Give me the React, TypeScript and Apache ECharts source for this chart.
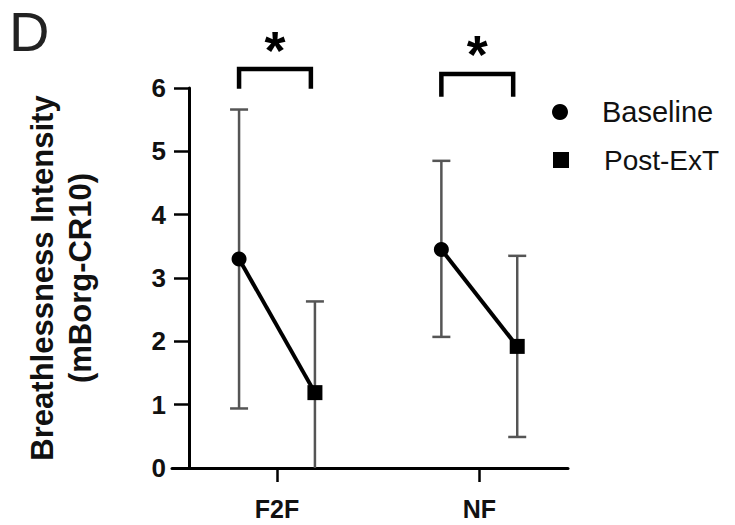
import React, { useEffect, useRef } from 'react';
import * as echarts from 'echarts';

// ---- data ----
const categories = ['F2F', 'NF'];
const baselineMean = [3.3, 3.45];
const baselineLow = [0.94, 2.07];
const baselineHigh = [5.66, 4.85];
const postMean = [1.19, 1.92];
const postLow = [-0.25, 0.49];
const postHigh = [2.63, 3.35];
const significance = ['*', '*'];
const yMin = 0;
const yMax = 6;
const yInterval = 1;

// ---- layout (not data) ----
const GROUP_OFFSET = 0.1875;
const X_MIN = 0.481;
const X_MAX = 2.4385;
const BRACKET_TOP = [6.3, 6.22];
const BRACKET_BOTTOM = [5.99, 5.86];
const STAR_Y = [6.6, 6.54];
const FONT = '"Liberation Sans", Arial, Helvetica, sans-serif';

export default function App() {
  const ref = useRef<HTMLDivElement>(null);

  useEffect(() => {
    const chart = echarts.init(ref.current!, null, { renderer: 'svg' });
    const catX = categories.map((_, i) => i + 1);
    const bx = catX.map((x) => x - GROUP_OFFSET);
    const px = catX.map((x) => x + GROUP_OFFSET);

    const errData = [
      ...categories.map((_, i) => [bx[i], baselineLow[i], baselineHigh[i]]),
      ...categories.map((_, i) => [px[i], postLow[i], postHigh[i]]),
    ];
    const bracketData = categories.map((_, i) => [
      bx[i],
      px[i] - 0.02,
      BRACKET_TOP[i],
      BRACKET_BOTTOM[i],
      STAR_Y[i],
    ]);

    const errStyle = { stroke: '#555', lineWidth: 2.5 };
    const CAP = 9;

    const option: any = {
      animation: false,
      grid: { left: 172, top: 88, right: 167, bottom: 57, containLabel: false },
      graphic: [
        {
          type: 'text',
          left: 9,
          top: 3,
          style: { text: 'D', fontSize: 56, fontFamily: FONT, fill: '#222', lineHeight: 50 },
        },
      ],
      legend: [
        {
          data: [{ name: 'Baseline', icon: 'circle' }],
          left: 547,
          top: 92,
          itemWidth: 74,
          itemHeight: 16,
          selectedMode: false,
          itemStyle: { color: '#000', opacity: 1 },
          textStyle: { fontSize: 29, fontFamily: FONT, color: '#111', lineHeight: 30 },
        },
        {
          data: [{ name: 'Post-ExT', icon: 'path://M0 0H10V10H0Z' }],
          left: 548,
          top: 140,
          itemWidth: 76,
          itemHeight: 16,
          selectedMode: false,
          itemStyle: { color: '#000', opacity: 1 },
          textStyle: { fontSize: 28, fontFamily: FONT, color: '#111', lineHeight: 30 },
        },
      ],
      xAxis: {
        type: 'value',
        min: X_MIN,
        max: X_MAX,
        axisLine: { show: true, onZero: false, lineStyle: { color: '#000', width: 3 } },
        axisTick: { show: true, customValues: catX, length: 14, lineStyle: { color: '#000', width: 2.5 } },
        axisLabel: {
          show: true,
          customValues: catX,
          formatter: (v: number) => categories[Math.round(v) - 1] ?? '',
          fontSize: 25,
          fontWeight: 'bold',
          fontFamily: FONT,
          color: '#111',
          margin: 28,
        },
        splitLine: { show: false },
      },
      yAxis: {
        type: 'value',
        min: yMin,
        max: yMax,
        interval: yInterval,
        offset: -17,
        axisLine: { show: true, lineStyle: { color: '#000', width: 3 } },
        axisTick: { show: true, length: 15, lineStyle: { color: '#000', width: 2.5 } },
        axisLabel: { fontSize: 26, fontWeight: 'bold', fontFamily: FONT, color: '#111', margin: 23 },
        splitLine: { show: false },
        name: 'Breathlessness Intensity\n(mBorg-CR10)',
        nameLocation: 'middle',
        nameGap: 90,
        nameTextStyle: { fontSize: 31, fontWeight: 'bold', fontFamily: FONT, color: '#111', lineHeight: 38 },
      },
      series: [
        {
          type: 'custom',
          name: 'errors',
          clip: true,
          data: errData,
          encode: { x: 0, y: [1, 2] },
          renderItem: (_p: any, api: any) => {
            const x = api.value(0);
            const lo = api.coord([x, api.value(1)]);
            const hi = api.coord([x, api.value(2)]);
            return {
              type: 'group',
              children: [
                { type: 'line', shape: { x1: lo[0], y1: lo[1], x2: hi[0], y2: hi[1] }, style: errStyle },
                { type: 'line', shape: { x1: hi[0] - CAP, y1: hi[1], x2: hi[0] + CAP, y2: hi[1] }, style: errStyle },
                { type: 'line', shape: { x1: lo[0] - CAP, y1: lo[1], x2: lo[0] + CAP, y2: lo[1] }, style: errStyle },
              ],
            };
          },
          z: 1,
        },
        ...categories.map((c, i) => ({
          type: 'line',
          name: c + ' change',
          data: [
            [bx[i], baselineMean[i]],
            [px[i], postMean[i]],
          ],
          showSymbol: false,
          symbol: 'none',
          lineStyle: { color: '#000', width: 4 },
          z: 2,
        })),
        {
          type: 'scatter',
          name: 'Baseline',
          symbol: 'circle',
          symbolSize: 15,
          itemStyle: { color: '#000', opacity: 1 },
          data: categories.map((_, i) => [bx[i], baselineMean[i]]),
          z: 3,
        },
        {
          type: 'scatter',
          name: 'Post-ExT',
          symbol: 'rect',
          symbolSize: 15,
          itemStyle: { color: '#000', opacity: 1 },
          data: categories.map((_, i) => [px[i], postMean[i]]),
          z: 3,
        },
        {
          type: 'custom',
          name: 'significance',
          clip: false,
          data: bracketData,
          encode: { x: [0, 1], y: [2, 3] },
          renderItem: (p: any, api: any) => {
            const x1 = api.value(0);
            const x2 = api.value(1);
            const top = api.value(2);
            const bot = api.value(3);
            const sy = api.value(4);
            const a = api.coord([x1, bot]);
            const b = api.coord([x1, top]);
            const c = api.coord([x2, top]);
            const d = api.coord([x2, bot]);
            const s = api.coord([(x1 + x2) / 2, sy]);
            return {
              type: 'group',
              children: [
                {
                  type: 'polyline',
                  shape: { points: [a, b, c, d] },
                  style: { stroke: '#000', lineWidth: 4.5, fill: 'none', lineJoin: 'miter' },
                },
                {
                  type: 'text',
                  x: s[0],
                  y: s[1],
                  style: {
                    text: significance[p.dataIndex],
                    fontSize: 54,
                    fontWeight: 'bold',
                    fontFamily: FONT,
                    fill: '#000',
                    align: 'center',
                    verticalAlign: 'middle',
                  },
                },
              ],
            };
          },
          z: 4,
        },
      ],
    };

    chart.setOption(option);
    return () => chart.dispose();
  }, []);

  return (
    <div
      ref={ref}
      style={{ position: 'fixed', left: 0, top: 0, width: 735, height: 525, background: '#fff' }}
    />
  );
}
